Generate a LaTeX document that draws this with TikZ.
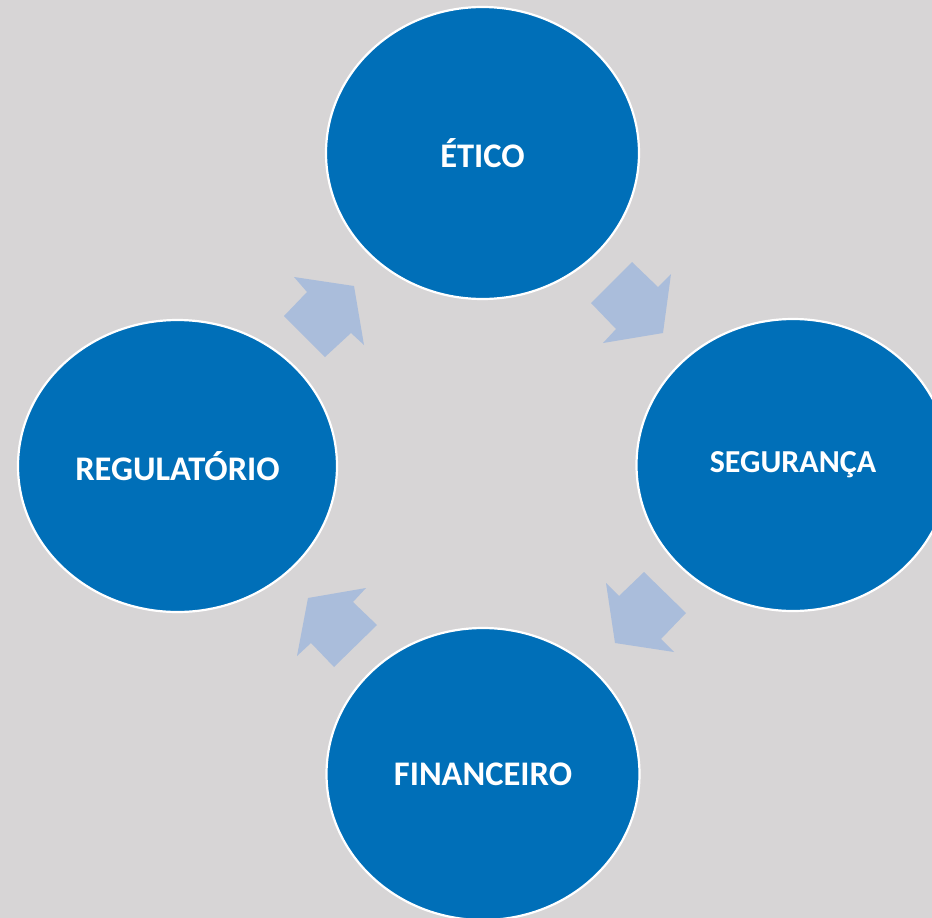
\documentclass[tikz,border=0pt]{standalone}
\usepackage{fontspec}
\setmainfont{Carlito}
\usetikzlibrary{shapes.geometric}
\definecolor{bg}{RGB}{215,213,214}
\definecolor{cblue}{RGB}{0,111,184}
\definecolor{arrowc}{RGB}{170,189,219}
\tikzset{
  cyc/.style={ellipse, fill=cblue, draw=white, line width=2.2pt, minimum width=313pt, minimum height=292pt, inner sep=0pt, text=white, font=\bfseries\fontsize{34.5}{38}\selectfont},
  blockarrow/.style={fill=arrowc}
}
\begin{document}
\begin{tikzpicture}[x=1pt,y=-1pt]
\useasboundingbox (0,0) rectangle (932,918);
\fill[bg] (0,0) rectangle (932,918);
% block arrows
\fill[blockarrow] (632,262) -- (658,287) -- (671,274) -- (663,333) -- (603,343) -- (616,329) -- (591,303) -- cycle;
\fill[blockarrow] (644,572) -- (686,613) -- (661,639) -- (674,652) -- (615,643) -- (606,583) -- (619,596) -- cycle;
\fill[blockarrow] (377,625) -- (334,667) -- (311,643) -- (297,656) -- (308,598) -- (366,588) -- (353,602) -- cycle;
\fill[blockarrow] (284,316) -- (325,357) -- (351,333) -- (364,345) -- (354,286) -- (294,277) -- (307,292) -- cycle;
% circles
\node[cyc] (etico) at (482.5,153) {ÉTICO};
\node[cyc, font=\bfseries\fontsize{32}{36}\selectfont] (seguranca) at (793,465) {SEGURANÇA};
\node[cyc, minimum width=319pt] (regulatorio) at (177.5,466) {REGULATÓRIO};
\node[cyc] (financeiro) at (483,774) {FINANCEIRO};
\end{tikzpicture}
\end{document}
